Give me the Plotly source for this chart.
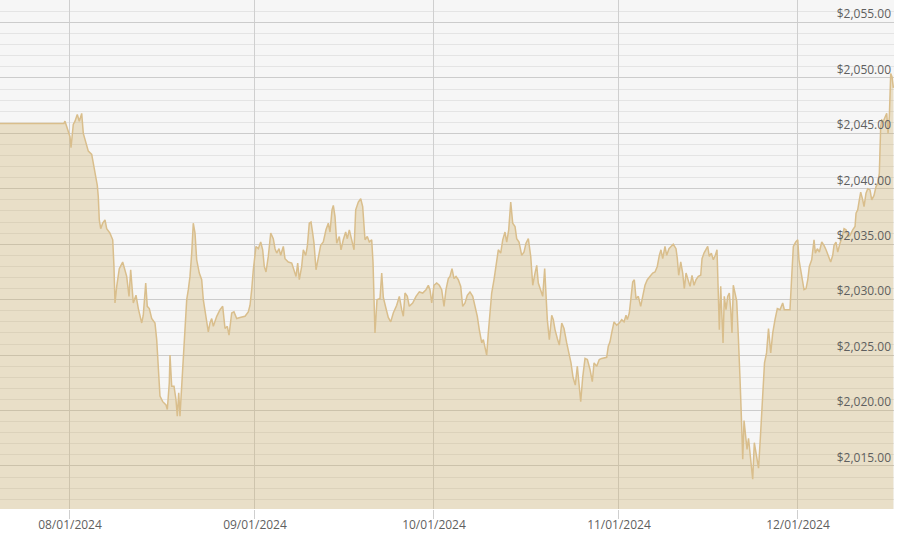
import pandas as pd
import plotly.graph_objects as go

# time of each reading, in days since 2024-08-01 (fractional days)
days_since_aug1 = [
    -12.0, -1.01, -0.84, -0.55, 0.0, 0.17, 0.55, 0.84, 1.22, 1.56, 1.96, 2.23, 2.68, 3.07, 3.64, 3.90,
    4.19, 4.58, 4.74, 4.91, 5.15, 5.48, 5.87, 6.15, 6.70, 7.16, 7.37, 7.54, 7.83, 8.26, 8.83, 9.22,
    9.50, 9.89, 10.17, 10.61, 11.06, 11.45, 12.02, 12.28, 12.69, 12.95, 13.29, 13.69, 14.24, 14.53,
    14.80, 15.08, 15.54, 16.09, 16.31, 16.64, 16.76, 17.04, 17.43, 17.76, 17.98, 18.22, 18.43, 18.72,
    18.99, 19.27, 19.56, 19.83, 20.11, 20.40, 20.66, 20.95, 21.23, 21.67, 22.07, 22.34, 22.79, 23.18,
    23.46, 23.75, 24.02, 24.59, 25.14, 25.59, 25.98, 26.36, 26.65, 27.10, 27.48, 27.94, 28.49, 29.33,
    29.88, 30.17, 30.45, 30.72, 31.17, 31.56, 31.96, 32.29, 32.56, 32.85, 33.23, 33.64, 34.07, 34.36,
    34.64, 35.03, 35.31, 35.75, 36.03, 36.59, 37.16, 37.54, 37.88, 38.16, 38.43, 38.83, 39.10, 39.50,
    39.77, 40.10, 40.39, 40.67, 40.89, 41.23, 41.61, 42.01, 42.45, 42.90, 43.29, 43.57, 43.91, 44.13,
    44.41, 44.70, 45.13, 45.42, 45.80, 46.20, 46.47, 46.81, 47.21, 47.60, 47.88, 48.32, 48.72, 49.05,
    49.44, 49.82, 50.16, 50.56, 50.78, 51.11, 51.45, 51.95, 52.24, 52.51, 52.96, 53.34, 53.75, 54.18,
    54.75, 55.19, 55.59, 55.86, 56.14, 56.53, 56.86, 57.43, 57.99, 58.54, 59.11, 59.66, 60.05, 60.33,
    60.62, 61.00, 61.45, 61.89, 62.29, 62.68, 63.01, 63.40, 63.68, 64.02, 64.35, 64.69, 65.07, 65.48,
    65.81, 66.20, 66.58, 67.03, 67.49, 67.87, 68.26, 68.59, 69.00, 69.27, 69.55, 69.83, 70.10, 70.39,
    70.67, 71.06, 71.51, 71.78, 72.18, 72.52, 72.90, 73.19, 73.52, 73.86, 74.19, 74.58, 74.86, 75.25,
    75.70, 76.09, 76.42, 76.81, 77.21, 77.55, 77.93, 78.22, 78.48, 78.89, 79.22, 79.55, 79.77, 79.99,
    80.33, 80.73, 81.00, 81.28, 81.67, 82.00, 82.41, 82.79, 83.24, 83.63, 83.96, 84.30, 84.68, 85.02,
    85.35, 85.59, 85.92, 86.31, 86.70, 87.15, 87.53, 87.82, 88.27, 88.70, 89.11, 89.94, 90.21, 90.50,
    90.78, 91.17, 91.62, 92.06, 92.46, 92.85, 93.18, 93.40, 93.73, 93.97, 94.30, 94.57, 94.86, 95.24,
    95.64, 95.98, 96.36, 96.75, 97.20, 97.65, 98.04, 98.42, 98.76, 99.04, 99.33, 99.71, 100.00, 100.38,
    100.72, 101.10, 101.56, 101.78, 102.01, 102.35, 102.68, 102.95, 103.24, 103.57, 103.91, 104.24,
    104.58, 104.91, 105.30, 105.70, 105.92, 106.25, 106.59, 106.87, 107.14, 107.48, 107.81, 108.15,
    108.43, 108.65, 108.82, 109.05, 109.27, 109.44, 109.65, 109.94, 110.22, 110.49, 110.73, 110.94,
    111.16, 111.45, 111.73, 112.00, 112.17, 112.29, 112.57, 112.74, 112.96, 113.24, 113.46, 113.71,
    114.01, 114.41, 114.68, 115.02, 115.39, 115.69, 115.97, 116.39, 116.73, 117.06, 117.43, 117.77,
    118.15, 118.54, 118.99, 119.44, 119.71, 120.66, 120.95, 121.22, 121.62, 121.96, 122.17, 122.46,
    122.79, 123.01, 123.35, 123.64, 123.90, 124.30, 124.69, 124.91, 125.24, 125.58, 125.98, 126.36,
    126.70, 127.08, 127.48, 127.82, 128.04, 128.37, 128.66, 129.04, 129.43, 129.72, 130.05, 130.44,
    130.72, 131.17, 131.56, 131.73, 132.01, 132.28, 132.51, 132.85, 133.07, 133.40, 133.69, 134.07,
    134.36, 134.74, 135.08, 135.36, 135.63, 135.86, 136.03, 136.30, 136.59, 136.87, 137.09, 137.31,
    137.54, 137.76, 137.98,
]

# price in USD
price = [
    2045.9, 2045.9, 2046.1, 2045.6, 2044.7, 2043.7, 2045.8, 2046.1, 2046.7, 2046.1, 2046.8, 2045.0, 2044.1, 2043.4, 2043.1, 2042.3,
    2041.1, 2040.3, 2039.3, 2037.2, 2036.4, 2036.9, 2037.2, 2036.4, 2036.0, 2035.4, 2033.0, 2029.7, 2031.2, 2032.8, 2033.4, 2032.7,
    2032.1, 2030.3, 2032.7, 2029.7, 2030.4, 2029.2, 2027.9, 2028.6, 2031.5, 2029.4, 2029.2, 2028.3, 2027.9, 2026.4,
    2024.0, 2021.3, 2020.8, 2020.5, 2020.1, 2022.5, 2025.0, 2022.2, 2022.2, 2021.0, 2019.5, 2021.6, 2019.5, 2022.5,
    2024.3, 2028.2, 2030.0, 2030.9, 2032.1, 2034.2, 2036.9, 2036.0, 2033.6, 2032.4, 2031.8, 2030.0, 2028.5, 2027.1,
    2027.9, 2028.3, 2027.6, 2028.5, 2029.1, 2029.4, 2027.4, 2027.6, 2026.8, 2028.8, 2028.9, 2028.3, 2028.4, 2028.5,
    2028.9, 2029.5, 2030.9, 2032.7, 2034.8, 2034.6, 2035.2, 2034.5, 2033.0, 2032.5, 2033.9, 2036.0, 2035.5, 2034.6,
    2034.2, 2034.6, 2034.0, 2034.8, 2033.7, 2033.4, 2033.3, 2032.7, 2032.1, 2033.3, 2031.8, 2033.0, 2034.5, 2034.0,
    2034.8, 2036.9, 2037.0, 2036.0, 2035.1, 2032.7, 2033.9, 2034.9, 2035.2, 2036.3, 2036.9, 2036.1, 2038.1, 2038.5,
    2037.5, 2035.1, 2035.7, 2034.5, 2035.4, 2036.1, 2035.5, 2036.3, 2035.4, 2034.5, 2038.1, 2038.8, 2039.1, 2038.4,
    2035.4, 2035.7, 2035.2, 2035.4, 2033.4, 2027.0, 2030.0, 2030.1, 2032.4, 2030.2, 2029.2, 2028.4, 2028.0, 2028.8,
    2029.5, 2030.3, 2029.1, 2028.5, 2030.6, 2030.3, 2029.4, 2029.7, 2030.3, 2030.7, 2030.6, 2030.9, 2031.3, 2030.9,
    2029.7, 2031.3, 2031.5, 2031.3, 2030.9, 2029.4, 2030.9, 2031.9, 2032.1, 2032.8, 2031.9, 2032.1, 2031.8, 2031.2,
    2029.4, 2029.7, 2030.4, 2030.7, 2030.3, 2029.5, 2028.5, 2027.3, 2026.1, 2026.4, 2025.8, 2025.0, 2027.0, 2029.1,
    2030.6, 2031.8, 2033.3, 2034.5, 2034.2, 2035.4, 2036.1, 2035.2, 2036.3, 2038.8, 2036.9, 2036.6, 2035.5, 2035.2,
    2034.0, 2034.3, 2035.1, 2035.5, 2033.9, 2031.3, 2032.4, 2033.1, 2031.5, 2030.9, 2030.3, 2032.8, 2030.0, 2028.2,
    2026.4, 2028.6, 2028.2, 2027.3, 2026.5, 2025.9, 2027.9, 2027.4, 2026.1, 2025.2, 2024.3, 2023.0, 2022.3, 2024.0,
    2021.9, 2020.8, 2023.0, 2024.7, 2024.6, 2023.7, 2022.6, 2024.3, 2024.0, 2024.6, 2024.7, 2024.8, 2025.8, 2026.2,
    2027.0, 2028.0, 2027.7, 2027.9, 2028.2, 2028.0, 2028.6, 2028.2, 2028.8, 2030.0, 2031.6, 2031.8, 2030.1, 2030.3,
    2029.4, 2030.3, 2031.3, 2031.8, 2032.1, 2032.4, 2032.5, 2033.0, 2034.0, 2034.5, 2033.7, 2034.8, 2034.0, 2034.6,
    2034.8, 2035.0, 2034.6, 2033.7, 2032.2, 2033.4, 2032.4, 2031.0, 2032.4, 2031.8, 2031.2, 2032.2,
    2031.3, 2031.8, 2032.1, 2032.2, 2033.7, 2034.2, 2034.6, 2034.8, 2033.9, 2034.2, 2033.6, 2034.0,
    2034.5, 2030.9, 2027.3, 2031.2, 2028.8, 2026.1, 2030.3, 2029.1, 2030.3, 2030.6, 2029.1, 2027.0,
    2031.3, 2030.7, 2029.9, 2026.7, 2025.0, 2022.8, 2018.5, 2015.6, 2019.1, 2017.7, 2016.5, 2017.5,
    2015.6, 2013.8, 2017.1, 2015.8, 2014.8, 2017.5, 2020.8, 2024.3, 2025.2, 2027.4, 2025.2, 2027.0,
    2028.2, 2029.2, 2029.1, 2029.7, 2029.1, 2029.1, 2032.1, 2034.8, 2035.2, 2035.4, 2033.6, 2032.7,
    2031.8, 2030.9, 2031.0, 2031.8, 2033.0, 2033.6, 2035.4, 2034.2, 2034.6, 2034.3, 2035.2, 2034.9,
    2034.5, 2034.0, 2033.4, 2034.0, 2034.9, 2035.2, 2034.3, 2035.1, 2035.7, 2036.4, 2036.3, 2035.7,
    2035.8, 2036.3, 2036.6, 2037.8, 2038.1, 2039.0, 2039.7, 2039.0, 2038.4, 2039.6, 2040.0, 2039.9,
    2039.0, 2039.4, 2040.2, 2040.5, 2041.4, 2045.6, 2046.2, 2046.1, 2046.5, 2046.8, 2045.0, 2046.5,
    2050.4, 2050.1, 2049.1,
]

x_tick_dates = ["2024-08-01", "2024-09-01", "2024-10-01", "2024-11-01", "2024-12-01"]
x_tick_labels = ["08/01/2024", "09/01/2024", "10/01/2024", "11/01/2024", "12/01/2024"]
y_tick_values = [2015, 2020, 2025, 2030, 2035, 2040, 2045, 2050, 2055]
y_tick_labels = ["$2,015.00", "$2,020.00", "$2,025.00", "$2,030.00", "$2,035.00",
                 "$2,040.00", "$2,045.00", "$2,050.00", "$2,055.00"]

dates = pd.Timestamp("2024-08-01") + pd.to_timedelta(days_since_aug1, unit="D")

fig = go.Figure()
fig.add_trace(go.Scatter(
    x=dates, y=price, mode="lines",
    line=dict(color="#d9be8c", width=1.5),
    fill="tozeroy", fillcolor="rgba(206,173,103,0.32)",
    hoverinfo="x+y",
))

fig.update_layout(
    width=900, height=545,
    margin=dict(l=0, r=6, t=0, b=36),
    paper_bgcolor="white",
    plot_bgcolor="#f6f6f6",
    showlegend=False,
    font=dict(family="'Open Sans', sans-serif", size=12, color="#5f5f5f"),
    xaxis=dict(
        type="date",
        range=["2024-07-20 06:29", "2024-12-17 02:10"],
        tickvals=x_tick_dates, ticktext=x_tick_labels,
        showgrid=True, gridcolor="#cfcfcf", gridwidth=1,
        ticks="outside", ticklen=9, tickcolor="#cfcfcf",
        ticklabelstandoff=-4,
        showline=False, zeroline=False,
        tickfont=dict(size=12, color="#5f5f5f"),
    ),
    yaxis=dict(
        side="right",
        range=[2011.12, 2057.03],
        tickvals=y_tick_values, ticktext=y_tick_labels,
        ticklabelposition="inside top",
        showgrid=True, gridcolor="#cccccc", gridwidth=1,
        minor=dict(dtick=1, showgrid=True, gridcolor="#e4e4e4", gridwidth=1),
        showline=False, zeroline=False,
        tickfont=dict(size=12, color="#5f5f5f"),
    ),
)

fig.write_html(
    "out.html",
    config={"displayModeBar": False},
    post_script="document.body.style.margin='0';document.body.style.overflow='hidden';",
)
